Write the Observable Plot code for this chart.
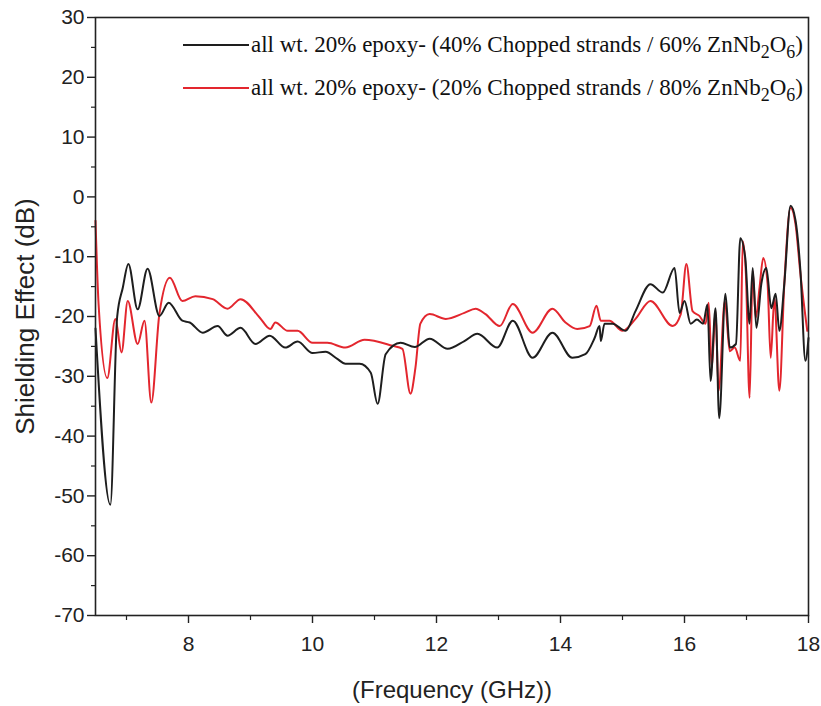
<!DOCTYPE html>
<html>
<head>
<meta charset="utf-8">
<script src="https://cdn.jsdelivr.net/npm/d3@7"></script>
<script src="https://cdn.jsdelivr.net/npm/@observablehq/plot@0.6"></script>
<style>
  body { margin: 0; background: white; }
  #wrap { position: relative; width: 821px; height: 706px; }
  #legend { position: absolute; left: 183px; top: 23px; font-family: "Liberation Serif", "DejaVu Serif", serif; font-size: 23px; color: #111; }
  #legend .row { display: flex; align-items: center; height: 43px; white-space: nowrap; }
  #legend .sw { width: 66px; height: 2px; margin-right: 2px; }
  #legend sub { font-size: 0.78em; vertical-align: -0.35em; line-height: 0; }
</style>
</head>
<body>
<div id="wrap"></div>
<script>
// Frequency (GHz) and shielding effect (dB), series 1: 40% chopped strands / 60% ZnNb2O6
const blackFreq = [6.5,6.74,6.85,6.94,7.03,7.18,7.34,7.53,7.68,7.9,8.02,8.23,8.47,8.63,8.84,9.08,9.31,9.56,9.76,10.0,10.21,10.4,10.53,10.76,10.94,11.05,11.18,11.42,11.65,11.89,12.18,12.45,12.66,12.98,13.23,13.55,13.87,14.19,14.4,14.55,14.63,14.65,14.71,14.84,15.05,15.21,15.45,15.65,15.84,15.92,16.0,16.1,16.2,16.3,16.37,16.42,16.5,16.56,16.66,16.73,16.83,16.9,16.98,17.05,17.1,17.16,17.24,17.32,17.4,17.47,17.53,17.61,17.71,17.79,17.87,17.95,18.0];
const blackSE   = [-22,-51.5,-20,-15.2,-11.2,-18.8,-12,-19.9,-17.7,-20.7,-21,-22.7,-21.6,-23.2,-21.9,-24.6,-23.2,-25.2,-24.2,-26.1,-25.9,-27.1,-27.9,-27.9,-29.4,-34.6,-26.3,-24.4,-25.1,-23.7,-25.4,-24.1,-22.9,-25.2,-20.7,-26.9,-22.7,-26.9,-26.3,-23.6,-21.6,-24.1,-21.2,-21.2,-22.4,-19.1,-14.6,-16,-11.9,-19.4,-17.4,-21.2,-20.5,-21.2,-18,-30.8,-18.6,-37,-16.2,-25.2,-24.6,-6.9,-10.2,-21.2,-11.9,-21.9,-14.5,-11.9,-18.6,-16.2,-22.4,-14.5,-1.5,-3.9,-12.4,-27.4,-23.6];

// series 2: 20% chopped strands / 80% ZnNb2O6
const redFreq = [6.5,6.55,6.69,6.82,6.92,7.02,7.18,7.29,7.4,7.53,7.7,7.9,8.11,8.39,8.63,8.84,9.15,9.32,9.4,9.6,9.76,10.0,10.24,10.53,10.84,11.29,11.45,11.58,11.66,11.74,11.89,12.15,12.45,12.63,12.79,13.02,13.23,13.55,13.87,14.08,14.27,14.47,14.58,14.65,14.79,15.0,15.21,15.45,15.81,15.94,16.03,16.13,16.24,16.34,16.39,16.44,16.5,16.55,16.65,16.73,16.81,16.9,16.94,16.99,17.05,17.1,17.15,17.21,17.27,17.34,17.39,17.45,17.53,17.61,17.71,17.79,17.87,17.98];
const redSE   = [-4,-18,-30.3,-20.4,-26,-17.4,-24.6,-20.7,-34.4,-19.6,-13.5,-17.4,-16.6,-17.1,-18.7,-17.1,-20.2,-22.1,-21,-22.4,-22.4,-24.4,-24.4,-25.2,-23.9,-24.9,-25.4,-32.9,-28.6,-21.2,-19.6,-20.4,-19.4,-18.7,-19.6,-21.6,-17.9,-22.7,-18.7,-21,-22.1,-21.6,-18.2,-20.7,-20.7,-22.4,-20.4,-17.4,-21.6,-19.6,-11.2,-19.1,-19.9,-21.2,-17.7,-28.6,-19.1,-32.4,-17.4,-25.8,-25.2,-27.4,-7.4,-12.9,-33.6,-12.4,-20.2,-15.2,-10.2,-14.5,-26.9,-16.9,-32.4,-14.5,-1.8,-4.5,-12.9,-22.4];

const seriesNames = [
  "all wt. 20% epoxy- (40% Chopped strands / 60% ZnNb<sub>2</sub>O<sub>6</sub>)",
  "all wt. 20% epoxy- (20% Chopped strands / 80% ZnNb<sub>2</sub>O<sub>6</sub>)"
];
const seriesColors = ["#1e1e1e", "#e3262e"];

const xMajor = [8, 10, 12, 14, 16, 18];
const xMinor = [7, 9, 11, 13, 15, 17];
const yMajor = [30, 20, 10, 0, -10, -20, -30, -40, -50, -60, -70];
const yMinor = [25, 15, 5, -5, -15, -25, -35, -45, -55, -65];

const black = blackFreq.map((f, i) => ({f, v: blackSE[i]}));
const red = redFreq.map((f, i) => ({f, v: redSE[i]}));

const chart = Plot.plot({
  width: 821,
  height: 706,
  marginLeft: 95,
  marginRight: 13,
  marginTop: 17,
  marginBottom: 91,
  x: {domain: [6.5, 18]},
  y: {domain: [-70, 30]},
  style: {fontFamily: "'Liberation Sans', Arial, sans-serif", fontSize: "21px", color: "#222", background: "white"},
  marks: [
    Plot.line(red, {x: "f", y: "v", stroke: seriesColors[1], strokeWidth: 2, curve: "monotone-x"}),
    Plot.line(black, {x: "f", y: "v", stroke: seriesColors[0], strokeWidth: 2, curve: "monotone-x"}),
    Plot.frame({stroke: "#222", strokeWidth: 1.6}),
    Plot.axisY({ticks: yMajor, tickSize: 8, tickPadding: 3, tickFormat: d => String(d), label: null, fontSize: 21, strokeWidth: 1.4}),
    Plot.axisY({ticks: yMinor, tickSize: 4, tickFormat: () => "", label: null, strokeWidth: 1.2}),
    Plot.axisX({ticks: xMajor, tickSize: 8, tickPadding: 13, label: null, fontSize: 21, strokeWidth: 1.4}),
    Plot.axisX({ticks: xMinor, tickSize: 5, tickFormat: () => "", label: null, strokeWidth: 1.2}),
    Plot.axisY({ticks: [], tickSize: 0, label: "Shielding Effect (dB)", labelAnchor: "center", labelArrow: "none", labelOffset: 80, fontSize: 26}),
    Plot.axisX({ticks: [], tickSize: 0, label: "(Frequency (GHz))", labelAnchor: "center", labelArrow: "none", labelOffset: 82, fontSize: 24})
  ]
});

const wrap = document.getElementById("wrap");
wrap.appendChild(chart);
const legend = document.createElement("div");
legend.id = "legend";
legend.innerHTML = seriesNames.map((n, i) =>
  `<div class="row"><div class="sw" style="background:${seriesColors[i]}"></div><span>${n}</span></div>`).join("");
wrap.appendChild(legend);
</script>
</body>
</html>
